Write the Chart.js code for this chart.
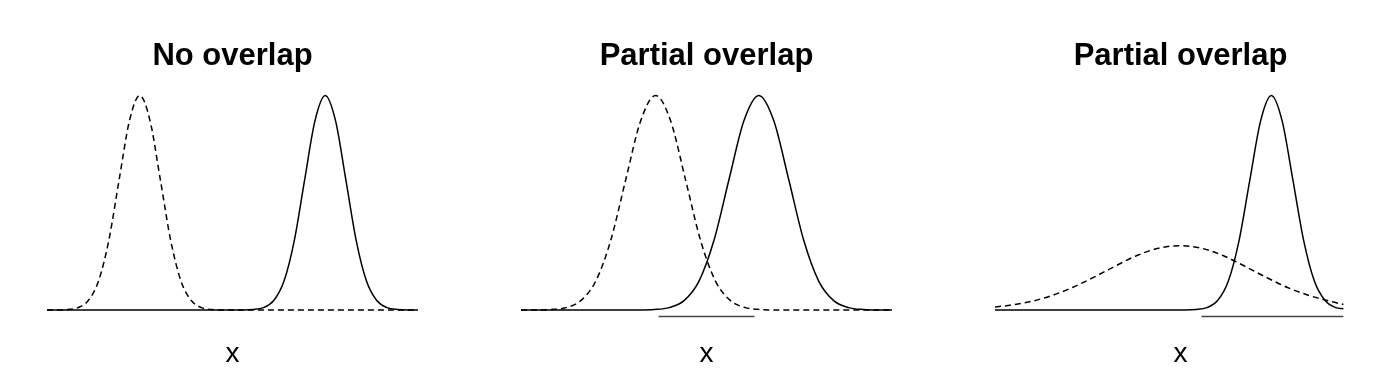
<!DOCTYPE html>
<html>
<head>
<meta charset="utf-8">
<title>Overlap of two distributions</title>
<script src="https://cdn.jsdelivr.net/npm/chart.js@4.4.1/dist/chart.umd.min.js"></script>
<style>
  html, body { margin: 0; padding: 0; background: #fff; overflow: hidden; }
  body { width: 1385px; height: 371px; position: relative; }
  canvas { position: absolute; top: 0; }
</style>
</head>
<body>
<canvas id="panel1" width="418" height="371" style="left:0px"></canvas>
<canvas id="panel2" width="418" height="371" style="left:474px"></canvas>
<canvas id="panel3" width="418" height="371" style="left:948px"></canvas>
<script>
// Panel titles and axis label
const titles = ['No overlap', 'Partial overlap', 'Partial overlap'];
const axisLabel = 'x';

// Panel 1: two well separated curves
const p1Range = [-4.5, 13.5];
const p1DashX = [-4.5, -4, -3.5, -3, -2.5, -2, -1.5, -1, -0.5, 0, 0.5, 1, 1.5, 2, 2.5, 3, 3.5, 4, 13.5];
const p1DashY = [0, 0, 0.002, 0.011, 0.044, 0.135, 0.325, 0.607, 0.882, 1, 0.882, 0.607, 0.325, 0.135, 0.044, 0.011, 0.002, 0, 0];
const p1SolidX = [-4.5, 5, 5.5, 6, 6.5, 7, 7.5, 8, 8.5, 9, 9.5, 10, 10.5, 11, 11.5, 12, 12.5, 13, 13.5];
const p1SolidY = [0, 0, 0.002, 0.011, 0.044, 0.135, 0.325, 0.607, 0.882, 1, 0.882, 0.607, 0.325, 0.135, 0.044, 0.011, 0.002, 0, 0];
const p1Overlap = [];

// Panel 2: same spread, closer centres
const p2Range = [-4.5, 7.9];
const p2DashX = [-4.5, -4, -3.5, -3, -2.5, -2, -1.5, -1, -0.5, 0, 0.5, 1, 1.5, 2, 2.5, 3, 3.5, 4, 7.9];
const p2DashY = [0, 0, 0.002, 0.011, 0.044, 0.135, 0.325, 0.607, 0.882, 1, 0.882, 0.607, 0.325, 0.135, 0.044, 0.011, 0.002, 0, 0];
const p2SolidX = [-4.5, -0.55, -0.05, 0.45, 0.95, 1.45, 1.95, 2.45, 2.95, 3.45, 3.95, 4.45, 4.95, 5.45, 5.95, 6.45, 6.95, 7.45, 7.9];
const p2SolidY = [0, 0, 0.002, 0.011, 0.044, 0.135, 0.325, 0.607, 0.882, 1, 0.882, 0.607, 0.325, 0.135, 0.044, 0.011, 0.002, 0, 0];
const p2Overlap = [0.1, 3.3];

// Panel 3: wide dashed curve, narrow solid curve
const p3Range = [-8.6, 8.65];
const p3DashX = [-8.6, -8, -7, -6, -5, -4, -3, -2, -1, 0, 1, 2, 3, 4, 5, 6, 7, 7.6];
const p3DashY = [0.014, 0.021, 0.038, 0.066, 0.105, 0.153, 0.205, 0.254, 0.288, 0.300, 0.288, 0.254, 0.205, 0.153, 0.105, 0.068, 0.040, 0.026];
const p3SolidX = [-8.6, 0.25, 0.75, 1.25, 1.75, 2.25, 2.75, 3.25, 3.75, 4.25, 4.75, 5.25, 5.75, 6.25, 6.75, 7.25, 7.6];
const p3SolidY = [0, 0, 0.002, 0.011, 0.044, 0.135, 0.325, 0.607, 0.882, 1, 0.882, 0.607, 0.325, 0.135, 0.044, 0.011, 0.006];
const p3Overlap = [1.0, 7.6];

const overlapLevel = -0.03;

function points(xs, ys) {
  return xs.map((x, i) => ({ x: x, y: ys[i] }));
}

function makePanel(id, title, range, dashX, dashY, solidX, solidY, overlap) {
  const datasets = [
    {
      data: points(dashX, dashY),
      borderColor: '#000',
      borderWidth: 1.5,
      borderDash: [6, 4],
      cubicInterpolationMode: 'monotone',
      pointRadius: 0
    },
    {
      data: points(solidX, solidY),
      borderColor: '#000',
      borderWidth: 1.5,
      cubicInterpolationMode: 'monotone',
      pointRadius: 0
    }
  ];
  if (overlap.length) {
    datasets.push({
      data: overlap.map(x => ({ x: x, y: overlapLevel })),
      borderColor: '#444',
      borderWidth: 1.5,
      pointRadius: 0
    });
  }

  return new Chart(document.getElementById(id), {
    type: 'line',
    data: { datasets: datasets },
    options: {
      responsive: false,
      animation: false,
      devicePixelRatio: 1,
      layout: { padding: { left: 47, right: 0, top: 0, bottom: 0 } },
      scales: {
        x: { type: 'linear', min: range[0], max: range[1], display: false },
        y: { min: -0.0466, max: 1.0723, display: false }
      },
      plugins: {
        legend: { display: false },
        tooltip: { enabled: false },
        title: {
          display: true,
          text: title,
          color: '#000',
          font: { family: "'Liberation Sans', Arial, sans-serif", size: 31, weight: 'bold' },
          padding: { top: 37.4, bottom: 5.4 }
        },
        subtitle: {
          display: true,
          text: axisLabel,
          position: 'bottom',
          color: '#000',
          font: { family: "'Liberation Sans', Arial, sans-serif", size: 28, weight: 'normal' },
          padding: { top: 17.4, bottom: 0 }
        }
      }
    }
  });
}

makePanel('panel1', titles[0], p1Range, p1DashX, p1DashY, p1SolidX, p1SolidY, p1Overlap);
makePanel('panel2', titles[1], p2Range, p2DashX, p2DashY, p2SolidX, p2SolidY, p2Overlap);
makePanel('panel3', titles[2], p3Range, p3DashX, p3DashY, p3SolidX, p3SolidY, p3Overlap);
</script>
</body>
</html>
